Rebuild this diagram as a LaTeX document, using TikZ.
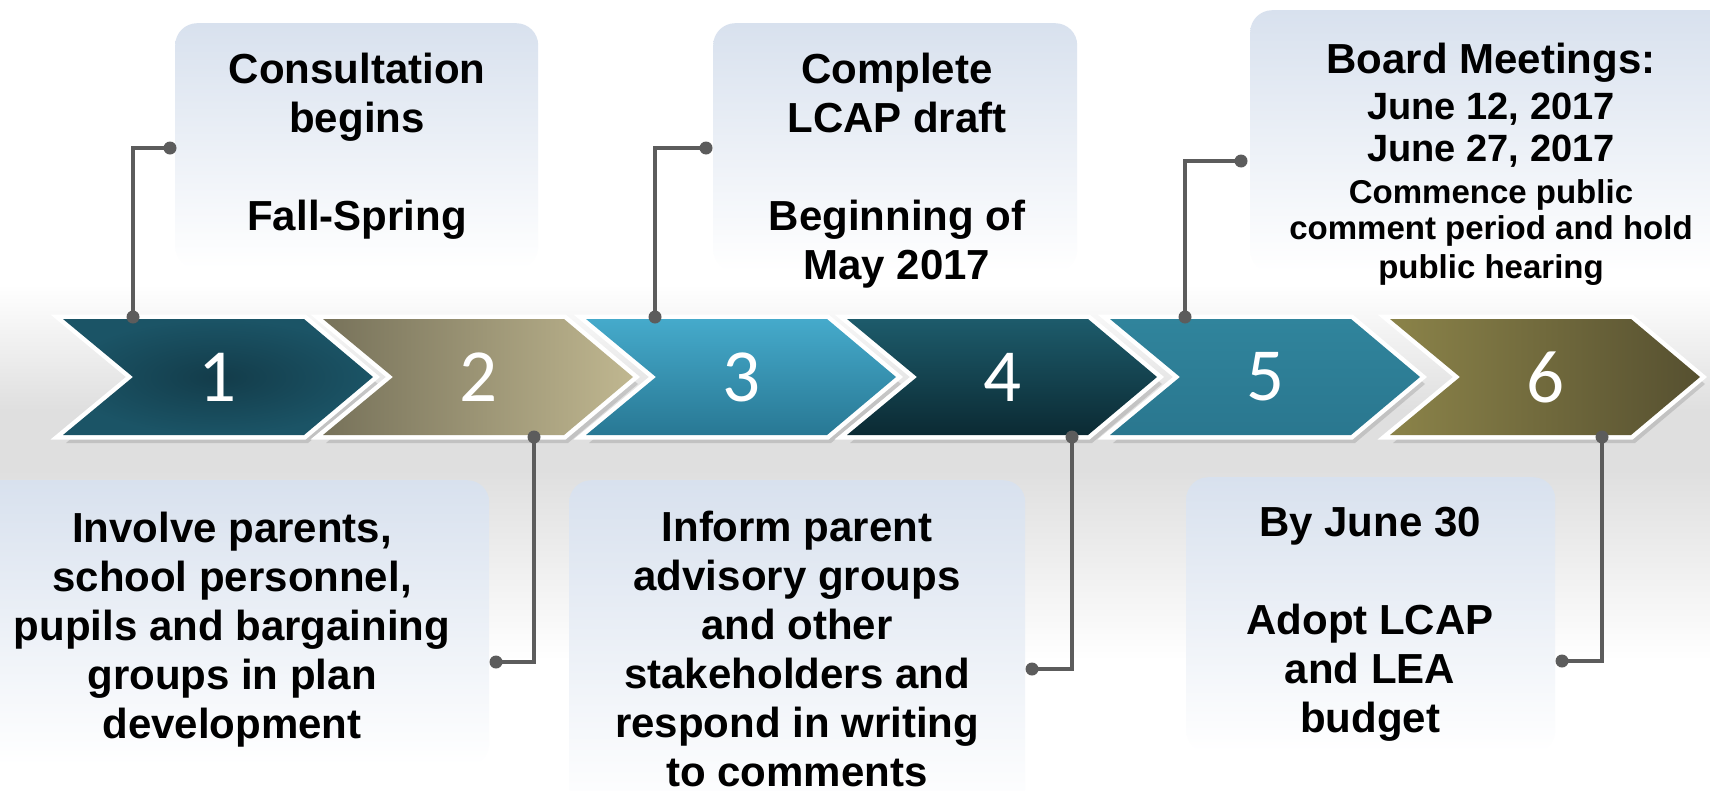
\documentclass[tikz,border=0pt]{standalone}
\usepackage{fontspec}
\setmainfont{Liberation Sans}
\newfontfamily\numfont{Carlito}
\definecolor{bandgray}{HTML}{DFDFDF}
\definecolor{boxtop}{HTML}{D8E1EE}
\definecolor{conn}{HTML}{5C5C5C}
\definecolor{chAin}{HTML}{133C4A}
\definecolor{chAout}{HTML}{1B5466}
\definecolor{chBl}{HTML}{77725A}
\definecolor{chBr}{HTML}{C0B790}
\definecolor{chCt}{HTML}{45AACB}
\definecolor{chCb}{HTML}{287894}
\definecolor{chDt}{HTML}{1D5B6B}
\definecolor{chDb}{HTML}{0B2A33}
\definecolor{chEt}{HTML}{30849C}
\definecolor{chEb}{HTML}{2A778F}
\definecolor{chFl}{HTML}{8B8349}
\definecolor{chFr}{HTML}{565030}
\newcommand\chevshadow[1]{%
  \fill[black,opacity=0.13,xshift=#1] (3,326) -- (245,326) -- (315,384) -- (245,443) -- (3,443) -- (73,384) -- cycle;}
\newcommand\chevbody[4]{%
  \begin{scope}[xshift=#1]
  \draw[white,line width=9pt,line join=miter] (0,319) -- (241,319) -- (310,377) -- (241,435) -- (0,435) -- (70,377) -- cycle;
  \shade[#2] (0,319) -- (241,319) -- (310,377) -- (241,435) -- (0,435) -- (70,377) -- cycle;
  \node[numtxt] (#3) at (155,377) {#4};
  \end{scope}}
\begin{document}
\begin{tikzpicture}[x=1pt,y=-1pt,
  txt/.style={font=\bfseries\fontsize{42}{49}\selectfont, align=center, inner sep=0pt, anchor=north, text=black},
  numtxt/.style={font=\numfont\fontsize{75}{80}\selectfont, text=white, inner sep=0pt},
  boxsty/.style={top color=boxtop, bottom color=white, rounded corners=22pt, inner sep=0pt, anchor=north west},
  conline/.style={draw=conn, line width=4pt},
  dotc/.style={fill=conn}]
\useasboundingbox (0,0) rectangle (1710,790);
\clip (0,0) rectangle (1710,790);
\fill[white] (0,0) rectangle (1710,790);
\shade[top color=white, bottom color=bandgray] (0,285) rectangle (1710,410);
\fill[bandgray] (0,409) rectangle (1710,471);
\shade[top color=bandgray, bottom color=white] (0,470) rectangle (1710,660);
% text boxes
\node[boxsty, minimum width=363, minimum height=245] (b1) at (175,23) {};
\node[boxsty, minimum width=364, minimum height=248] (b2) at (713,23) {};
\node[boxsty, minimum width=500, minimum height=262] (b3) at (1250,10) {};
\node[boxsty, minimum width=519, minimum height=285] (b4) at (-30,480) {};
\node[boxsty, minimum width=456, minimum height=330] (b5) at (569,480) {};
\node[boxsty, minimum width=369, minimum height=275] (b6) at (1186,477) {};
% chevrons
\chevshadow{63}\chevshadow{323}\chevshadow{586}\chevshadow{847}\chevshadow{1110}\chevshadow{1390}
\chevbody{63}{inner color=chAin, outer color=chAout}{c1}{1}
\chevbody{323}{left color=chBl, right color=chBr}{c2}{2}
\chevbody{586}{top color=chCt, bottom color=chCb}{c3}{3}
\chevbody{847}{top color=chDt, bottom color=chDb}{c4}{4}
\chevbody{1110}{top color=chEt, bottom color=chEb}{c5}{5}
\chevbody{1390}{left color=chFl, right color=chFr}{c6}{6}
% texts
\node[txt] (t1) at (357,53) {Consultation\\begins\\[49pt]Fall-Spring};
\node[txt] (t2) at (897,53) {Complete\\LCAP draft\\[49pt]Beginning of\\May 2017};
\node[txt, font=\bfseries\fontsize{33}{36}\selectfont] (t3) at (1491,43) {{\fontsize{42}{46}\selectfont Board Meetings:}\\[10pt]{\fontsize{38}{42}\selectfont June 12, 2017}\\[6pt]{\fontsize{38}{42}\selectfont June 27, 2017}\\[6pt]Commence public\\comment period and hold\\[3pt]public hearing};
\node[txt] (t4) at (232,512) {Involve parents,\\school personnel,\\pupils and bargaining\\groups in plan\\development};
\node[txt] (t5) at (797,511) {Inform parent\\advisory groups\\and other\\stakeholders and\\respond in writing\\to comments};
\node[txt] (t6) at (1370,507) {By June 30\\[49pt]Adopt LCAP\\and LEA\\budget};
% connectors
\coordinate (k1a) at (133,317); \coordinate (k1b) at (170,148);
\coordinate (k2a) at (534,437); \coordinate (k2b) at (496,662);
\coordinate (k3a) at (655,317); \coordinate (k3b) at (706,148);
\coordinate (k4a) at (1072,437); \coordinate (k4b) at (1032,669);
\coordinate (k5a) at (1185,317); \coordinate (k5b) at (1241,161);
\coordinate (k6a) at (1602,437); \coordinate (k6b) at (1562,661);
\foreach \k in {1,...,6}{
  \draw[conline] (k\k a) |- (k\k b);
  \fill[dotc] (k\k a) circle (6.5);
  \fill[dotc] (k\k b) circle (6.5);
}
\end{tikzpicture}
\end{document}
